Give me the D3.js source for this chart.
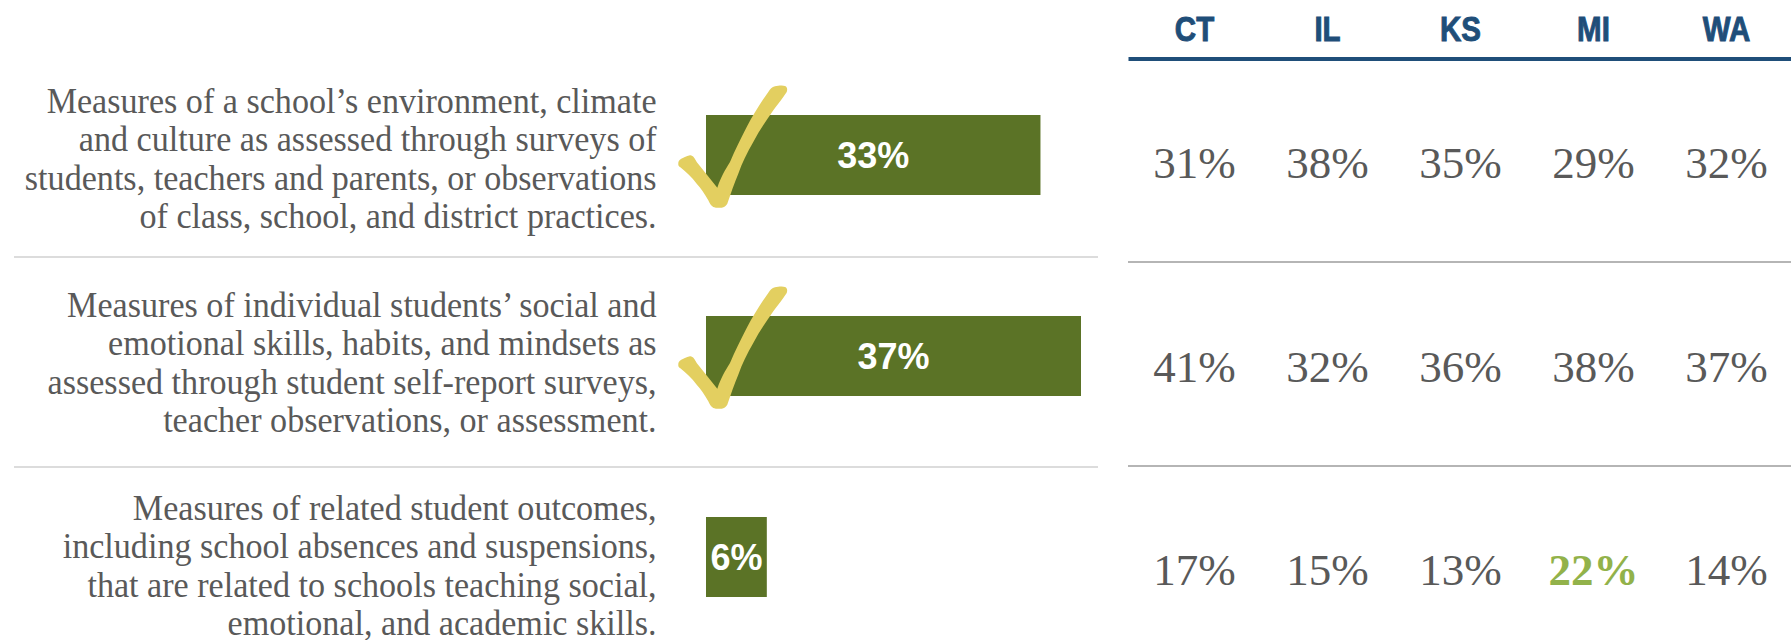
<!DOCTYPE html>
<html>
<head>
<meta charset="utf-8">
<script src="https://cdn.jsdelivr.net/npm/d3@7"></script>
<style>
  html, body { margin: 0; padding: 0; background: #fff; }
  svg { display: block; }
</style>
</head>
<body>
<div id="chart-container"></div>
<script>
const measures = ["environment", "skills", "outcomes"];
const labelLines = [
    ["Measures of a school’s environment, climate",
     "and culture as assessed through surveys of",
     "students, teachers and parents, or observations",
     "of class, school, and district practices."],
    ["Measures of individual students’ social and",
     "emotional skills, habits, and mindsets as",
     "assessed through student self-report surveys,",
     "teacher observations, or assessment."],
    ["Measures of related student outcomes,",
     "including school absences and suspensions,",
     "that are related to schools teaching social,",
     "emotional, and academic skills."]
];
const overall = [33, 37, 6];
const checked = [true, true, false];
const states = ["CT", "IL", "KS", "MI", "WA"];
const stateValues = [
    [31, 38, 35, 29, 32],
    [41, 32, 36, 38, 37],
    [17, 15, 13, 22, 14]
];
// the one cell called out in green
const highlight = { row: 2, state: "MI" };

const width = 1791;
const height = 640;

const svg = d3.select("#chart-container")
    .append("svg")
        .attr("width", width)
        .attr("height", height);

const x = d3.scaleLinear().domain([0, 37]).range([706, 1081]);
const xState = d3.scaleBand().domain(states).range([1128, 1793]);
// bars are 80px tall, 201px apart
const y = d3.scaleBand().domain(measures).range([115, 597]).paddingInner(121 / 201).paddingOuter(0);

const serif = "'Liberation Serif', serif";
const sans = "'Liberation Sans', Arial, sans-serif";

// Row dividers
const leftRules = [257, 467];
const rightRules = [262, 466];
svg.selectAll("line.left-rule")
    .data(leftRules)
    .enter()
    .append("line")
        .attr("class", "left-rule")
        .attr("x1", 14).attr("x2", 1098)
        .attr("y1", d => d).attr("y2", d => d)
        .attr("stroke", "#dcdcdc")
        .attr("stroke-width", 2);
svg.selectAll("line.right-rule")
    .data(rightRules)
    .enter()
    .append("line")
        .attr("class", "right-rule")
        .attr("x1", 1128).attr("x2", width)
        .attr("y1", d => d).attr("y2", d => d)
        .attr("stroke", "#b5b5b5")
        .attr("stroke-width", 2);

// State header is just a top axis with no ticks
const header = svg.append("g")
    .attr("transform", "translate(0,58.5)")
    .call(d3.axisTop(xState).tickSize(0).tickPadding(18));
header.select(".domain")
    .attr("stroke", "#1f4e79")
    .attr("stroke-width", 4);
// no narrow font installed, so squeeze the bold sans
header.selectAll("text")
    .attr("transform", "scale(0.82,1)")
    .attr("font-family", sans)
    .attr("font-weight", "bold")
    .attr("font-size", 36)
    .attr("fill", "#1f4e79")
    .attr("stroke", "#1f4e79")
    .attr("stroke-width", 1);

const row = svg.selectAll("g.row")
    .data(measures)
    .enter()
    .append("g")
        .attr("class", "row")
        .attr("transform", d => `translate(0,${y(d)})`);

// Bars
row.append("rect")
    .attr("x", x(0))
    .attr("y", 0)
    .attr("width", (d, i) => x(overall[i]) - x(0))
    .attr("height", y.bandwidth())
    .attr("fill", "#5b7326");

// Bar labels
row.append("text")
    .attr("x", (d, i) => (x(0) + x(overall[i])) / 2)
    .attr("y", y.bandwidth() / 2 + 13)
    .attr("text-anchor", "middle")
    .attr("font-family", sans)
    .attr("font-weight", "bold")
    .attr("font-size", 36)
    .attr("fill", "#fff")
    .text((d, i) => overall[i] + "%");

// Hand drawn check mark, relative to the bar's top left corner
const checkPath = "M-27.7,48.7 C-28,45 -24,42.7 -16,40.3 C-13,40 -11,44 -9.3,47 L11.3,72.7 " +
    "C15,62 19,55 24,47 C29,35 35,23 40.7,12 C47,0 55,-13 62.3,-23 C64,-26 66,-28 69,-28.7 " +
    "C72,-29.5 77,-30 79,-29 C81.5,-28 81.5,-25 80.7,-23 C76,-16 72,-11 67.3,-4.7 " +
    "C60,6 53,16 47.3,27 C41,38 36,48 32.3,58.7 C28,69 25,78 21.3,88.7 C20,91 18,92.5 15.7,92.7 " +
    "C13,93 10,93 7.3,92 C5,91 3.5,88 2.3,85.3 C-2,78 -5,73 -9.3,68.7 C-14,62 -20,57 -26,52 " +
    "C-27.5,51 -27.8,50 -27.7,48.7 Z";
row.filter((d, i) => checked[i])
    .append("path")
        .attr("transform", `translate(${x(0)},0)`)
        .attr("d", checkPath)
        .attr("fill", "#e3cf60");

// Descriptions, right aligned. Rows don't sit at the same offset from their bars.
const labelFirstBaseline = [113, 317, 520];
const lineHeight = 38.4;
svg.selectAll("g.label")
    .data(labelLines)
    .enter()
    .append("g")
        .attr("class", "label")
        .attr("transform", (d, i) => `translate(656.6,${labelFirstBaseline[i]}) scale(0.975,1)`)
    .selectAll("text")
    .data(d => d)
    .enter()
    .append("text")
        .attr("y", (d, i) => i * lineHeight)
        .attr("text-anchor", "end")
        .attr("font-family", serif)
        .attr("font-size", 35)
        .attr("fill", "#595959")
        .text(d => d);

// State values
const valueBaseline = [178, 382, 585];
svg.selectAll("g.values")
    .data(stateValues)
    .enter()
    .append("g")
        .attr("class", "values")
        .attr("transform", (d, i) => `translate(0,${valueBaseline[i]})`)
    .selectAll("text")
    .data((d, i) => d.map((v, j) => ({ v, state: states[j], rowIndex: i })))
    .enter()
    .append("text")
        .attr("x", d => xState(d.state) + xState.bandwidth() / 2)
        .attr("text-anchor", "middle")
        .attr("font-family", serif)
        .attr("font-size", 45)
        .attr("font-weight", d => d.rowIndex === highlight.row && d.state === highlight.state ? "bold" : "normal")
        .attr("fill", d => d.rowIndex === highlight.row && d.state === highlight.state ? "#92b24a" : "#595959")
        .text(d => d.v + "%");
</script>
</body>
</html>
